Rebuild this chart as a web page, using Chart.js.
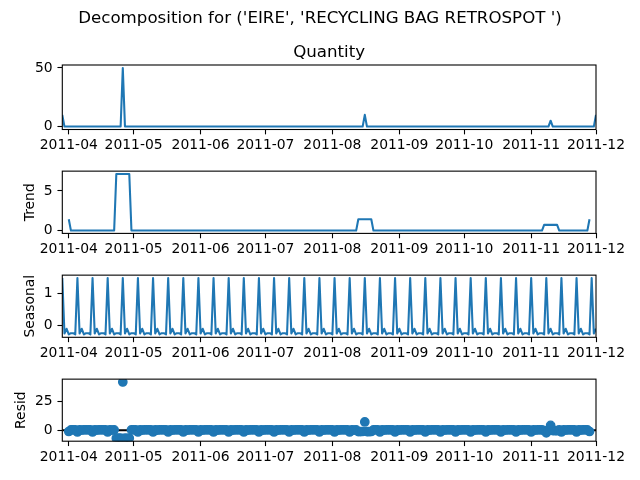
<!DOCTYPE html>
<html><head><meta charset="utf-8">
<script src="https://cdn.jsdelivr.net/npm/chart.js@4.4.1/dist/chart.umd.min.js"></script>
<style>
html,body{margin:0;padding:0;background:#fff;}
#wrap{position:relative;width:640px;height:480px;overflow:hidden;background:#fff;}
canvas{position:absolute;left:0;}
</style></head><body><div id="wrap">
<canvas id="c0" width="640" height="34" style="top:0px;width:640px;height:34px"></canvas>
<canvas id="c1" width="640" height="165" style="top:0px;width:640px;height:165px"></canvas>
<canvas id="c2" width="640" height="100" style="top:158px;width:640px;height:100px"></canvas>
<canvas id="c3" width="640" height="100" style="top:262px;width:640px;height:100px"></canvas>
<canvas id="c4" width="640" height="100" style="top:366px;width:640px;height:100px"></canvas>
</div>
<script>
// ---- data: daily series starting 2011-03-29 (one row = one week) ----
const startDate = '2011-03-29';
const monthTickIdx = [3, 33, 64, 94, 125, 156, 186, 217, 247];
const monthLabels = ['2011-04','2011-05','2011-06','2011-07','2011-08','2011-09','2011-10','2011-11','2011-12'];

const observed = [
10,0,0,0,0,0,0, 0,0,0,0,0,0,0, 0,0,0,0,0,0,0, 0,0,0,0,0,0,0,
50,0,0,0,0,0,0, 0,0,0,0,0,0,0, 0,0,0,0,0,0,0, 0,0,0,0,0,0,0,
0,0,0,0,0,0,0, 0,0,0,0,0,0,0, 0,0,0,0,0,0,0, 0,0,0,0,0,0,0,
0,0,0,0,0,0,0, 0,0,0,0,0,0,0, 0,0,0,0,0,0,0, 0,0,0,0,0,0,0,
0,0,0,0,0,0,0, 0,0,0,0,0,0,0, 0,0,0,0,0,0,0, 0,0,0,0,0,0,0,
10,0,0,0,0,0,0, 0,0,0,0,0,0,0, 0,0,0,0,0,0,0, 0,0,0,0,0,0,0,
0,0,0,0,0,0,0, 0,0,0,0,0,0,0, 0,0,0,0,0,0,0, 0,0,0,0,0,0,0,
0,0,0,0,0,0,0, 0,0,0,0,0,0,0, 0,0,0,0,0,0,0, 0,0,0,0,0,0,0,
0,0,5,0,0,0,0, 0,0,0,0,0,0,0, 0,0,0,0,0,0,0,
0,0,10
];

const trend = [
null,null,null,1.429,0,0,0, 0,0,0,0,0,0,0, 0,0,0,0,0,0,0, 0,0,0,0,7.143,7.143,7.143,
7.143,7.143,7.143,7.143,0,0,0, 0,0,0,0,0,0,0, 0,0,0,0,0,0,0, 0,0,0,0,0,0,0,
0,0,0,0,0,0,0, 0,0,0,0,0,0,0, 0,0,0,0,0,0,0, 0,0,0,0,0,0,0,
0,0,0,0,0,0,0, 0,0,0,0,0,0,0, 0,0,0,0,0,0,0, 0,0,0,0,0,0,0,
0,0,0,0,0,0,0, 0,0,0,0,0,0,0, 0,0,0,0,0,0,0, 0,0,0,0,1.429,1.429,1.429,
1.429,1.429,1.429,1.429,0,0,0, 0,0,0,0,0,0,0, 0,0,0,0,0,0,0, 0,0,0,0,0,0,0,
0,0,0,0,0,0,0, 0,0,0,0,0,0,0, 0,0,0,0,0,0,0, 0,0,0,0,0,0,0,
0,0,0,0,0,0,0, 0,0,0,0,0,0,0, 0,0,0,0,0,0,0, 0,0,0,0,0,0,0.714,
0.714,0.714,0.714,0.714,0.714,0.714,0, 0,0,0,0,0,0,0, 0,0,0,0,0,0,1.429,
null,null,null
];

const seasonal = [
1.4988,-0.2659,-0.1188,-0.2989,-0.2581,-0.2581,-0.2989,
1.4988,-0.2659,-0.1188,-0.2989,-0.2581,-0.2581,-0.2989,
1.4988,-0.2659,-0.1188,-0.2989,-0.2581,-0.2581,-0.2989,
1.4988,-0.2659,-0.1188,-0.2989,-0.2581,-0.2581,-0.2989,
1.4988,-0.2659,-0.1188,-0.2989,-0.2581,-0.2581,-0.2989,
1.4988,-0.2659,-0.1188,-0.2989,-0.2581,-0.2581,-0.2989,
1.4988,-0.2659,-0.1188,-0.2989,-0.2581,-0.2581,-0.2989,
1.4988,-0.2659,-0.1188,-0.2989,-0.2581,-0.2581,-0.2989,
1.4988,-0.2659,-0.1188,-0.2989,-0.2581,-0.2581,-0.2989,
1.4988,-0.2659,-0.1188,-0.2989,-0.2581,-0.2581,-0.2989,
1.4988,-0.2659,-0.1188,-0.2989,-0.2581,-0.2581,-0.2989,
1.4988,-0.2659,-0.1188,-0.2989,-0.2581,-0.2581,-0.2989,
1.4988,-0.2659,-0.1188,-0.2989,-0.2581,-0.2581,-0.2989,
1.4988,-0.2659,-0.1188,-0.2989,-0.2581,-0.2581,-0.2989,
1.4988,-0.2659,-0.1188,-0.2989,-0.2581,-0.2581,-0.2989,
1.4988,-0.2659,-0.1188,-0.2989,-0.2581,-0.2581,-0.2989,
1.4988,-0.2659,-0.1188,-0.2989,-0.2581,-0.2581,-0.2989,
1.4988,-0.2659,-0.1188,-0.2989,-0.2581,-0.2581,-0.2989,
1.4988,-0.2659,-0.1188,-0.2989,-0.2581,-0.2581,-0.2989,
1.4988,-0.2659,-0.1188,-0.2989,-0.2581,-0.2581,-0.2989,
1.4988,-0.2659,-0.1188,-0.2989,-0.2581,-0.2581,-0.2989,
1.4988,-0.2659,-0.1188,-0.2989,-0.2581,-0.2581,-0.2989,
1.4988,-0.2659,-0.1188,-0.2989,-0.2581,-0.2581,-0.2989,
1.4988,-0.2659,-0.1188,-0.2989,-0.2581,-0.2581,-0.2989,
1.4988,-0.2659,-0.1188,-0.2989,-0.2581,-0.2581,-0.2989,
1.4988,-0.2659,-0.1188,-0.2989,-0.2581,-0.2581,-0.2989,
1.4988,-0.2659,-0.1188,-0.2989,-0.2581,-0.2581,-0.2989,
1.4988,-0.2659,-0.1188,-0.2989,-0.2581,-0.2581,-0.2989,
1.4988,-0.2659,-0.1188,-0.2989,-0.2581,-0.2581,-0.2989,
1.4988,-0.2659,-0.1188,-0.2989,-0.2581,-0.2581,-0.2989,
1.4988,-0.2659,-0.1188,-0.2989,-0.2581,-0.2581,-0.2989,
1.4988,-0.2659,-0.1188,-0.2989,-0.2581,-0.2581,-0.2989,
1.4988,-0.2659,-0.1188,-0.2989,-0.2581,-0.2581,-0.2989,
1.4988,-0.2659,-0.1188,-0.2989,-0.2581,-0.2581,-0.2989,
1.4988,-0.2659,-0.1188,-0.2989,-0.2581,-0.2581,-0.2989,
1.4988,-0.2659,-0.1188
];

const resid = [
null,null,null,-1.1297,0.2581,0.2581,0.2989,
-1.4988,0.2659,0.1188,0.2989,0.2581,0.2581,0.2989,
-1.4988,0.2659,0.1188,0.2989,0.2581,0.2581,0.2989,
-1.4988,0.2659,0.1188,0.2989,-6.8848,-6.8848,-6.8439,
41.3583,-6.8770,-7.0240,-6.8439,0.2581,0.2581,0.2989,
-1.4988,0.2659,0.1188,0.2989,0.2581,0.2581,0.2989,
-1.4988,0.2659,0.1188,0.2989,0.2581,0.2581,0.2989,
-1.4988,0.2659,0.1188,0.2989,0.2581,0.2581,0.2989,
-1.4988,0.2659,0.1188,0.2989,0.2581,0.2581,0.2989,
-1.4988,0.2659,0.1188,0.2989,0.2581,0.2581,0.2989,
-1.4988,0.2659,0.1188,0.2989,0.2581,0.2581,0.2989,
-1.4988,0.2659,0.1188,0.2989,0.2581,0.2581,0.2989,
-1.4988,0.2659,0.1188,0.2989,0.2581,0.2581,0.2989,
-1.4988,0.2659,0.1188,0.2989,0.2581,0.2581,0.2989,
-1.4988,0.2659,0.1188,0.2989,0.2581,0.2581,0.2989,
-1.4988,0.2659,0.1188,0.2989,0.2581,0.2581,0.2989,
-1.4988,0.2659,0.1188,0.2989,0.2581,0.2581,0.2989,
-1.4988,0.2659,0.1188,0.2989,0.2581,0.2581,0.2989,
-1.4988,0.2659,0.1188,0.2989,0.2581,0.2581,0.2989,
-1.4988,0.2659,0.1188,0.2989,-1.1705,-1.1705,-1.1297,
7.0726,-1.1627,-1.3097,-1.1297,0.2581,0.2581,0.2989,
-1.4988,0.2659,0.1188,0.2989,0.2581,0.2581,0.2989,
-1.4988,0.2659,0.1188,0.2989,0.2581,0.2581,0.2989,
-1.4988,0.2659,0.1188,0.2989,0.2581,0.2581,0.2989,
-1.4988,0.2659,0.1188,0.2989,0.2581,0.2581,0.2989,
-1.4988,0.2659,0.1188,0.2989,0.2581,0.2581,0.2989,
-1.4988,0.2659,0.1188,0.2989,0.2581,0.2581,0.2989,
-1.4988,0.2659,0.1188,0.2989,0.2581,0.2581,0.2989,
-1.4988,0.2659,0.1188,0.2989,0.2581,0.2581,0.2989,
-1.4988,0.2659,0.1188,0.2989,0.2581,0.2581,0.2989,
-1.4988,0.2659,0.1188,0.2989,0.2581,0.2581,0.2989,
-1.4988,0.2659,0.1188,0.2989,0.2581,0.2581,-0.4154,
-2.2131,-0.4484,4.1669,-0.4154,-0.4562,-0.4562,0.2989,
-1.4988,0.2659,0.1188,0.2989,0.2581,0.2581,0.2989,
-1.4988,0.2659,0.1188,0.2989,0.2581,0.2581,-1.1297,
null,null,null
];

const quantityTicks = [0, 50];
const trendTicks = [0, 5];
const seasonalTicks = [0, 1];
const residTicks = [0, 25];

// ---- rendering ----
const BLUE = '#1f77b4';
const PLOT_LEFT = 62.3, PLOT_RIGHT = 596, PANEL_H = 64.5;
const TICK_FONT = 13.9, TITLE_FONT = 16.67;
Chart.defaults.font.family = "'DejaVu Sans', sans-serif";
Chart.defaults.color = '#000';

const N = observed.length;
function toXY(arr) { return arr.map((v, i) => ({x: i, y: v})); }
function limits(arr) {
  const v = arr.filter(x => x !== null);
  const lo = Math.min(...v), hi = Math.max(...v);
  const m = (hi - lo) * 0.05;
  return [lo - m, hi + m];
}

const boxPlugin = {
  id: 'box',
  afterDraw(chart) {
    const a = chart.chartArea, ctx = chart.ctx;
    ctx.save();
    ctx.strokeStyle = '#000';
    ctx.lineWidth = 1.1;
    ctx.strokeRect(a.left, a.top, a.right - a.left, a.bottom - a.top);
    ctx.restore();
  }
};

function xScale(xh) {
  return {
    type: 'linear', min: 0, max: N - 1, offset: false,
    afterFit(s) { s.height = xh; },
    afterBuildTicks(s) { s.ticks = monthTickIdx.map(v => ({value: v})); },
    ticks: {
      autoSkip: false, maxRotation: 0, minRotation: 0, padding: 2.8, color: '#000',
      font: {size: TICK_FONT},
      callback: (v) => monthLabels[monthTickIdx.indexOf(v)]
    },
    grid: {display: true, drawOnChartArea: false, drawTicks: true, tickLength: 4.86, tickWidth: 1.1, tickColor: '#000'},
    border: {display: false}
  };
}

function yScale(ticks, range, title, titlePad) {
  return {
    type: 'linear', min: range[0], max: range[1],
    afterFit(s) { s.width = PLOT_LEFT; },
    afterBuildTicks(s) { s.ticks = ticks.map(v => ({value: v})); },
    ticks: {padding: 4.8, color: '#000', font: {size: TICK_FONT}, callback: (v) => String(v)},
    grid: {display: true, drawOnChartArea: false, drawTicks: true, tickLength: 4.86, tickWidth: 1.1, tickColor: '#000'},
    border: {display: false},
    title: title ? {display: true, text: title, color: '#000', font: {size: TICK_FONT}, padding: {top: titlePad, bottom: 0}} : {display: false}
  };
}

function lineDataset(arr) {
  return {data: toXY(arr), borderColor: BLUE, borderWidth: 2.08, pointRadius: 0, tension: 0,
          borderJoinStyle: 'round', spanGaps: false, fill: false};
}

function baseOptions(pad, scales, plugins) {
  return {
    responsive: false, animation: false, events: [],
    layout: {padding: pad},
    plugins: Object.assign({legend: {display: false}, tooltip: {enabled: false}}, plugins || {}),
    scales: scales
  };
}

// Figure title, centred over the whole page
new Chart(document.getElementById('c0'), {
  type: 'line',
  data: {datasets: []},
  options: baseOptions({left: 0, right: 0, top: 0, bottom: 0},
    {x: {display: false}, y: {display: false}},
    {title: {display: true, text: "Decomposition for ('EIRE', 'RECYCLING BAG RETROSPOT ')",
             color: '#000', font: {size: TITLE_FONT, weight: 'normal'}, padding: {top: 8.5, bottom: 0}}})
});

// Panel 1: observed
new Chart(document.getElementById('c1'), {
  type: 'line',
  data: {datasets: [Object.assign(lineDataset(observed), {xAxisID: 'x', yAxisID: 'y'})]},
  options: baseOptions({left: 0, right: 640 - PLOT_RIGHT, top: 0, bottom: 0}, {
    x: xScale(165 - 65 - PANEL_H),
    x2: {
      type: 'linear', position: 'top', min: 0, max: N - 1,
      afterFit(s) { s.height = 65; },
      ticks: {display: false}, grid: {display: false}, border: {display: false},
      title: {display: true, text: 'Quantity', color: '#000', font: {size: TITLE_FONT}, padding: {top: 42.9, bottom: 0}}
    },
    y: yScale(quantityTicks, limits(observed), null, 0)
  }),
  plugins: [boxPlugin]
});

function panel(id, canvasTop, panelTop, datasets, ticks, range, title, titlePad) {
  const padTop = panelTop - canvasTop;
  const xh = 100 - padTop - PANEL_H;
  new Chart(document.getElementById(id), {
    type: 'line',
    data: {datasets: datasets},
    options: baseOptions({left: 0, right: 640 - PLOT_RIGHT, top: padTop, bottom: 0},
                         {x: xScale(xh), y: yScale(ticks, range, title, titlePad)}),
    plugins: [boxPlugin]
  });
}

panel('c2', 158, 168.9, [lineDataset(trend)], trendTicks, limits(trend), 'Trend', 22.3);
panel('c3', 262, 272.8, [lineDataset(seasonal)], seasonalTicks, limits(seasonal), 'Seasonal', 22.3);
panel('c4', 366, 376.7, [
  {data: toXY(resid), showLine: false, pointRadius: 4.17, pointBorderWidth: 1.39,
   pointBackgroundColor: BLUE, pointBorderColor: BLUE, order: 1},
  {data: [{x: 0, y: 0}, {x: N - 1, y: 0}], borderColor: '#000', borderWidth: 2.08, pointRadius: 0, order: 2}
], residTicks, limits(resid), 'Resid', 13.5);
</script>
</body></html>
